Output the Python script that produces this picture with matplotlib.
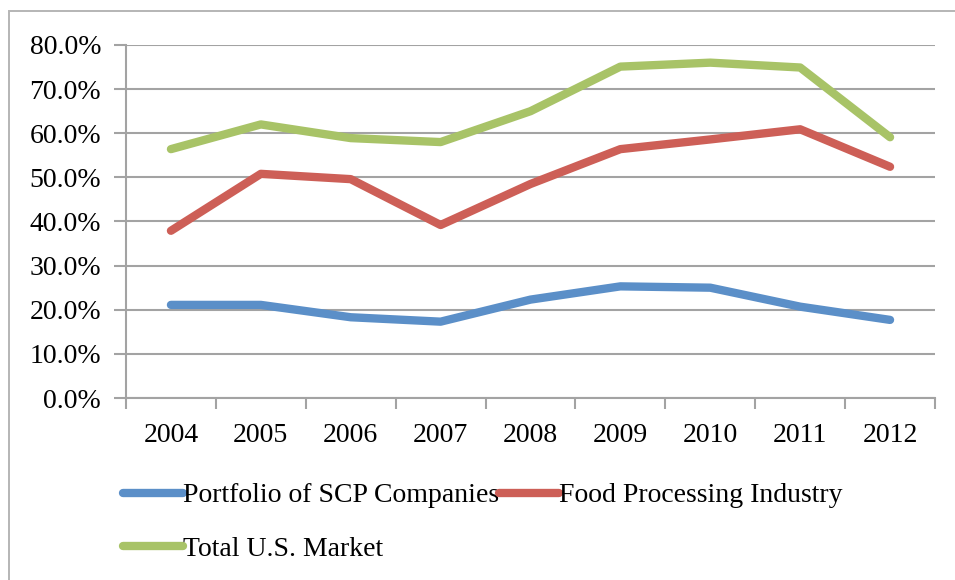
import matplotlib
matplotlib.use("Agg")
import matplotlib.pyplot as plt
from matplotlib.patches import Rectangle
from matplotlib.ticker import FixedLocator, FuncFormatter

years = ["2004", "2005", "2006", "2007", "2008", "2009", "2010", "2011", "2012"]
portfolio_scp = [21.1, 21.1, 18.3, 17.3, 22.3, 25.3, 25.0, 20.7, 17.7]
food_processing = [37.9, 50.8, 49.6, 39.2, 48.5, 56.4, 58.6, 60.9, 52.4]
total_us_market = [56.4, 62.0, 58.9, 58.0, 65.0, 75.1, 76.0, 74.9, 59.1]
y_ticks = [0, 10, 20, 30, 40, 50, 60, 70, 80]

plt.rcParams["font.family"] = ["Liberation Serif", "DejaVu Serif"]

W, H = 955, 580
fig = plt.figure(figsize=(W / 100, H / 100), dpi=100)
fig.patch.set_facecolor("white")

# chart frame
fig.patches.append(Rectangle((9 / W, -0.05), 1.2, (H - 11) / H + 0.05,
                             transform=fig.transFigure, fill=False,
                             edgecolor="#b5b5b5", linewidth=1.4))

ax = fig.add_axes([126 / W, (H - 398) / H, (935 - 126) / W, (398 - 45) / H])
grid_col = "#a3a3a3"

x = list(range(len(years)))
lw = 6.0
kw = dict(linewidth=lw, solid_capstyle="round", solid_joinstyle="round")
l1, = ax.plot(x, portfolio_scp, color="#5B8FC8", label="Portfolio of SCP Companies", **kw)
l2, = ax.plot(x, food_processing, color="#CD5F57", label="Food Processing Industry", **kw)
l3, = ax.plot(x, total_us_market, color="#A8C367", label="Total U.S. Market", **kw)

ax.set_xlim(-0.5, len(years) - 0.5)
ax.set_ylim(0, 80)

ax.yaxis.set_major_locator(FixedLocator(y_ticks))
ax.yaxis.set_major_formatter(FuncFormatter(lambda v, p: f"{v:.1f}%"))
ax.set_xticks(x)
ax.set_xticklabels(years)
ax.set_xticks([i - 0.5 for i in range(len(years) + 1)], minor=True)

ax.grid(axis="y", color=grid_col, linewidth=1.5)
ax.set_axisbelow(True)
for s in ["top", "right"]:
    ax.spines[s].set_visible(False)
for s in ["left", "bottom"]:
    ax.spines[s].set_color(grid_col)
    ax.spines[s].set_linewidth(1.5)

ax.tick_params(axis="y", which="major", length=9, width=1.5, color=grid_col,
               labelsize=20, pad=9, labelcolor="black")
ax.tick_params(axis="x", which="major", length=0, labelsize=20, pad=18,
               labelcolor="black")
ax.tick_params(axis="x", which="minor", length=8, width=1.5, color=grid_col)

fig.legend(handles=[l1, l3, l2], ncol=2, loc="upper left",
           bbox_to_anchor=(123 / W, (H - 483) / H), frameon=False,
           fontsize=20, handlelength=2.15, handletextpad=0.0,
           columnspacing=0.0, labelspacing=1.0, borderaxespad=0,
           borderpad=0)

fig.savefig("out.png", dpi=100, facecolor="white")
